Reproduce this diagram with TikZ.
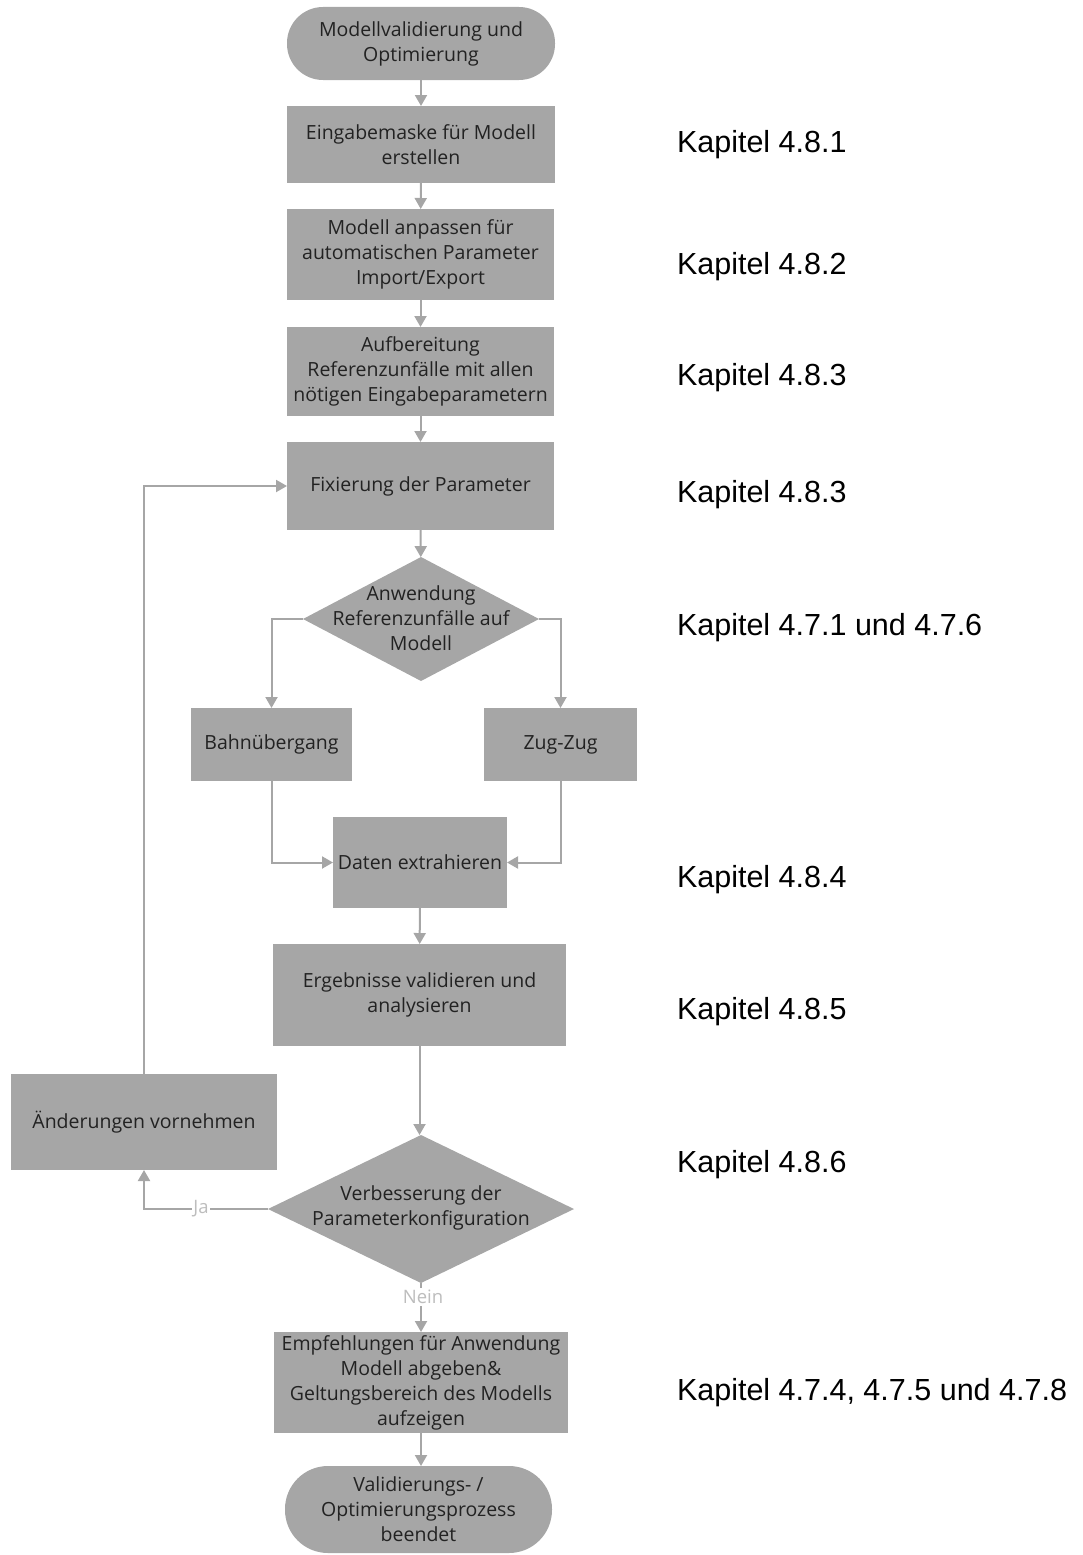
\documentclass[tikz,border=0pt]{standalone}
\usepackage{fontspec}
\setmainfont{Open Sans}
\newfontfamily\arialfont{Liberation Sans}
\usetikzlibrary{shapes.geometric,arrows.meta}
\definecolor{boxgray}{HTML}{A6A6A6}
\definecolor{linegray}{HTML}{A6A6A6}
\definecolor{txtdark}{HTML}{222222}
\definecolor{lbl}{HTML}{BDBDBD}
\begin{document}
\begin{tikzpicture}[x=1pt,y=-1pt,
  every node/.style={inner sep=0pt, outer sep=0pt},
  procbox/.style={rectangle, fill=boxgray, text=txtdark, align=center,
    font=\fontsize{19.5}{25}\selectfont},
  termbox/.style={procbox, rounded corners=#1},
  decbox/.style={diamond, fill=boxgray},
  dectext/.style={text=txtdark, align=center, font=\fontsize{19.5}{25}\selectfont},
  conn/.style={draw=linegray, line width=2pt, -{Triangle[width=12pt,length=11pt]}},
  yesno/.style={fill=white, text=lbl, font=\fontsize{18.5}{22}\selectfont, inner xsep=1pt},
  chap/.style={anchor=west, text=black, font=\arialfont\fontsize{30.5}{36}\selectfont}
]
\useasboundingbox (0,0) rectangle (1082,1555);

% nodes
\node[termbox=36pt, minimum width=268pt, minimum height=73pt] (start) at (421,43.5) {Modellvalidierung und\\Optimierung};
\node[procbox, minimum width=268pt, minimum height=77pt] (b1) at (421,144.5) {Eingabemaske für Modell\\erstellen};
\node[procbox, minimum width=267pt, minimum height=91pt] (b2) at (420.5,254.5) {Modell anpassen für\\automatischen Parameter\\Import/Export};
\node[procbox, minimum width=267pt, minimum height=89pt] (b3) at (420.5,371.5) {Aufbereitung\\Referenzunfälle mit allen\\nötigen Eingabeparametern};
\node[procbox, minimum width=267pt, minimum height=88pt] (b4) at (420.5,486) {Fixierung der Parameter};
\node[decbox, minimum width=236pt, minimum height=124pt] (d1) at (421,619) {};
\node[dectext] (d1t) at (421,618) {Anwendung\\Referenzunfälle auf\\Modell};
\node[procbox, minimum width=161pt, minimum height=73pt] (bahn) at (271.5,744.5) {Bahnübergang};
\node[procbox, minimum width=153pt, minimum height=73pt] (zug) at (560.5,744.5) {Zug-Zug};
\node[procbox, minimum width=174pt, minimum height=91pt] (daten) at (420,862.5) {Daten extrahieren};
\node[procbox, minimum width=293pt, minimum height=102pt] (erg) at (419.5,995) {Ergebnisse validieren und\\analysieren};
\node[procbox, minimum width=266pt, minimum height=96pt] (aend) at (144,1122) {Änderungen vornehmen};
\node[decbox, minimum width=306pt, minimum height=148pt] (d2) at (421,1209) {};
\node[dectext] (d2t) at (421,1208) {Verbesserung der\\Parameterkonfiguration};
\node[procbox, minimum width=294pt, minimum height=101pt] (empf) at (421,1382.5) {Empfehlungen für Anwendung\\Modell abgeben\&\\Geltungsbereich des Modells\\aufzeigen};
\node[termbox=43pt, minimum width=267pt, minimum height=87pt] (end) at (418.5,1509.5) {Validierungs- /\\Optimierungsprozess\\beendet};

% connectors
\draw[conn] (start) -- (b1);
\draw[conn] (b1) -- (b2);
\draw[conn] (b2) -- (b3);
\draw[conn] (b3) -- (b4);
\draw[conn] (b4) -- (d1);
\draw[conn] (d1.west) -| (bahn.north);
\draw[conn] (d1.east) -| (zug.north);
\draw[conn] (bahn.south) |- (daten.west);
\draw[conn] (zug.south) |- (daten.east);
\draw[conn] (daten) -- (erg);
\draw[conn] (erg.south) -- (erg.south |- d2.north);
\draw[conn] (d2.west) -| node[yesno, pos=0.27] (ja) {Ja} (aend.south);
\draw[conn] (aend.north) |- (b4.west);
\draw[conn] (d2.south) -- (empf.north);
\node[yesno, inner ysep=2pt] (nein) at (423,1297) {Nein};
\draw[conn] (empf.south) -- (empf.south |- end.north);

% chapter labels
\node[chap] (k1) at (677,145) {Kapitel 4.8.1};
\node[chap] (k2) at (677,267) {Kapitel 4.8.2};
\node[chap] (k3) at (677,378) {Kapitel 4.8.3};
\node[chap] (k4) at (677,495) {Kapitel 4.8.3};
\node[chap] (k5) at (677,628) {Kapitel 4.7.1 und 4.7.6};
\node[chap] (k6) at (677,880) {Kapitel 4.8.4};
\node[chap] (k7) at (677,1012) {Kapitel 4.8.5};
\node[chap] (k8) at (677,1165) {Kapitel 4.8.6};
\node[chap] (k9) at (677,1393) {Kapitel 4.7.4, 4.7.5 und 4.7.8};
\end{tikzpicture}
\end{document}
